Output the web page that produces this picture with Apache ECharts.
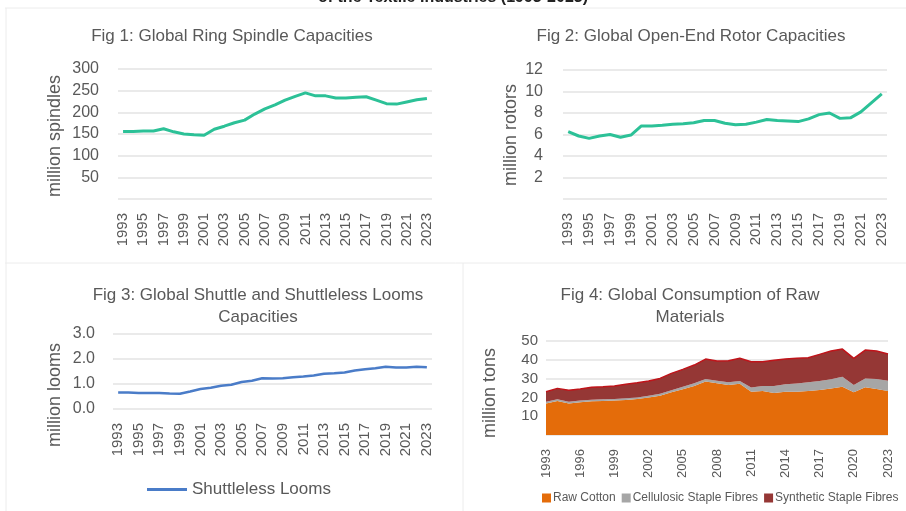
<!DOCTYPE html>
<html>
<head>
<meta charset="utf-8">
<script src="https://cdn.jsdelivr.net/npm/echarts@6/dist/echarts.min.js"></script>
<style>
  html, body { margin: 0; padding: 0; background: #fff; }
  #chart { width: 906px; height: 511px; }
</style>
</head>
<body>
<div id="chart"></div>
<script>
// 1993–2023 textile machinery capacities and raw material consumption

const years = ['1993','1994','1995','1996','1997','1998','1999','2000','2001','2002',
  '2003','2004','2005','2006','2007','2008','2009','2010','2011','2012',
  '2013','2014','2015','2016','2017','2018','2019','2020','2021','2022','2023'];

// Fig 1: million spindles
const ringSpindles = [156,156,157,157,162,155,150,148,147,161,168,176,182,196,208,217,
  228,237,245,238,238,233,233,235,236,228,220,219,224,229,232];

// Fig 2: million rotors
const rotors = [6.26,5.86,5.64,5.86,6.0,5.74,5.95,6.8,6.8,6.85,6.95,7.0,7.1,7.3,7.3,7.05,
  6.9,6.95,7.15,7.4,7.3,7.25,7.2,7.45,7.85,8.0,7.5,7.55,8.1,8.95,9.77];

// Fig 3: million looms
const shuttlelessLooms = [0.66,0.66,0.64,0.64,0.64,0.62,0.61,0.70,0.80,0.85,0.93,0.97,1.08,
  1.13,1.23,1.22,1.23,1.27,1.30,1.34,1.41,1.43,1.46,1.54,1.59,1.63,1.69,1.66,1.66,1.69,1.67];

// Fig 4: million tons (stacked)
const rawCotton = [16.8,18.1,16.8,17.4,17.9,18.1,18.3,18.6,19.1,20.0,20.9,22.7,24.3,26.1,
  28.4,27.5,26.6,27.3,23.0,23.4,22.3,23.0,23.0,23.4,23.9,24.8,25.7,22.7,25.4,24.5,23.4];
const cellulosic = [0.9,0.9,0.9,0.9,0.8,0.9,0.8,0.9,0.9,0.9,1.1,1.1,1.4,1.4,1.4,1.4,1.4,
  1.4,2.2,2.7,3.8,4.0,4.4,4.6,4.8,4.8,5.3,3.9,4.7,5.3,5.5];
const synthetic = [5.3,5.8,6.1,6.2,6.7,6.7,7.0,7.5,7.8,7.8,8.1,9.0,9.2,9.7,10.6,10.5,11.5,
  12.1,13.8,12.9,13.6,13.4,13.4,13.1,14.2,15.1,14.7,14.2,15.1,14.9,14.2];

const FONT = 'Liberation Sans';
const TXT = '#595959';
const GRID_LINE = '#e3e3e3';

const chart = echarts.init(document.getElementById('chart'), null, { renderer: 'canvas' });

function yAx(gi, max, interval, decimals, hideZero, margin, size) {
  return {
    type: 'value', gridIndex: gi, min: 0, max, interval,
    axisLine: { show: false }, axisTick: { show: false },
    splitLine: { lineStyle: { color: GRID_LINE, width: 1.5 } },
    axisLabel: {
      color: TXT, fontFamily: FONT, fontSize: size, margin,
      formatter: (v) => (hideZero && v === 0 ? '' : v.toFixed(decimals)),
    },
  };
}

function xAx(gi, gap, every, margin, size) {
  return {
    type: 'category', gridIndex: gi, data: years, boundaryGap: gap,
    axisLine: { show: false }, axisTick: { show: false },
    axisLabel: { color: TXT, fontFamily: FONT, fontSize: size, rotate: 90, interval: every, margin },
  };
}

const ttl = (text, x, y) => ({
  text, left: x, top: y, textAlign: 'center', padding: 0,
  textStyle: { color: TXT, fontFamily: FONT, fontSize: 17, fontWeight: 'normal', lineHeight: 22 },
});

const axName = (text, x, y) => ({
  type: 'text', x, y, rotation: Math.PI / 2,
  style: { text, fill: TXT, font: `18px "${FONT}"`, textAlign: 'center', textVerticalAlign: 'middle' },
});

const hLine = (x1, y1, x2, y2) => ({
  type: 'line', shape: { x1, y1, x2, y2 }, style: { stroke: '#ececec', lineWidth: 1 }, silent: true,
});

chart.setOption({
  animation: false,
  title: [
    ttl('Fig 1: Global Ring Spindle Capacities', 232, 25),
    ttl('Fig 2: Global Open-End Rotor Capacities', 691, 25),
    ttl('Fig 3: Global Shuttle and Shuttleless Looms\nCapacities', 258, 284),
    ttl('Fig 4: Global Consumption of Raw\nMaterials', 690, 284),
  ],
  graphic: [
    hLine(5, 8, 906, 8), hLine(6, 8, 6, 511), hLine(5, 263, 906, 263), hLine(463, 263, 463, 511),
    {
      type: 'text', x: 453, y: 6,
      style: { text: 'of the Textile Industries (1993-2023)', fill: '#222', font: `bold 16px "${FONT}"`,
        textAlign: 'center', textVerticalAlign: 'bottom' },
    },
    axName('million spindles', 55, 136),
    axName('million rotors', 511, 135),
    axName('million looms', 55, 395),
    axName('million tons', 490, 393),
  ],
  legend: [
    {
      data: ['Shuttleless Looms'], left: 147, top: 481, padding: 0, icon: 'rect',
      itemWidth: 40, itemHeight: 3,
      textStyle: { color: TXT, fontFamily: FONT, fontSize: 17 },
    },
    {
      data: ['Raw Cotton', 'Cellulosic Staple Fibres', 'Synthetic Staple Fibres'],
      left: 542, top: 492, padding: 0, icon: 'rect', itemWidth: 9, itemHeight: 9, itemGap: 6,
      textStyle: { color: TXT, fontFamily: FONT, fontSize: 12, padding: [0, 0, 0, -3] },
    },
  ],
  grid: [
    { left: 118, right: 474, top: 69, bottom: 312 },
    { left: 563, right: 19, top: 70, bottom: 312 },
    { left: 113, right: 474, top: 334, bottom: 102 },
    { left: 546, right: 18, top: 341, bottom: 76 },
  ],
  xAxis: [
    xAx(0, true, 1, 14, 15), xAx(1, true, 1, 14, 15), xAx(2, true, 1, 14, 15), xAx(3, false, 2, 14, 13),
  ],
  yAxis: [
    yAx(0, 300, 50, 0, true, 19, 16),
    yAx(1, 12, 2, 0, true, 20, 16),
    yAx(2, 3, 1, 1, false, 18, 16),
    yAx(3, 50, 10, 0, true, 8, 15),
  ],
  series: [
    { name: 'Ring Spindles', type: 'line', xAxisIndex: 0, yAxisIndex: 0, data: ringSpindles,
      symbol: 'none', lineStyle: { color: '#2cc197', width: 3 }, itemStyle: { color: '#2cc197' } },
    { name: 'Open-End Rotors', type: 'line', xAxisIndex: 1, yAxisIndex: 1, data: rotors,
      symbol: 'none', lineStyle: { color: '#2cc197', width: 3 }, itemStyle: { color: '#2cc197' } },
    { name: 'Shuttleless Looms', type: 'line', xAxisIndex: 2, yAxisIndex: 2, data: shuttlelessLooms,
      symbol: 'none', lineStyle: { color: '#4a7cc8', width: 2.5 }, itemStyle: { color: '#4a7cc8' } },
    { name: 'Raw Cotton', type: 'line', xAxisIndex: 3, yAxisIndex: 3, data: rawCotton, stack: 'raw',
      symbol: 'none', lineStyle: { width: 0 }, areaStyle: { color: '#e46c0a', opacity: 1 },
      itemStyle: { color: '#e46c0a' } },
    { name: 'Cellulosic Staple Fibres', type: 'line', xAxisIndex: 3, yAxisIndex: 3, data: cellulosic,
      stack: 'raw', symbol: 'none', lineStyle: { width: 0 }, areaStyle: { color: '#a6a6a6', opacity: 1 },
      itemStyle: { color: '#a6a6a6' } },
    { name: 'Synthetic Staple Fibres', type: 'line', xAxisIndex: 3, yAxisIndex: 3, data: synthetic,
      stack: 'raw', symbol: 'none', lineStyle: { width: 1.5, color: '#c0141a' },
      areaStyle: { color: '#953735', opacity: 1 }, itemStyle: { color: '#953735' } },
  ],
});
</script>
</body>
</html>
